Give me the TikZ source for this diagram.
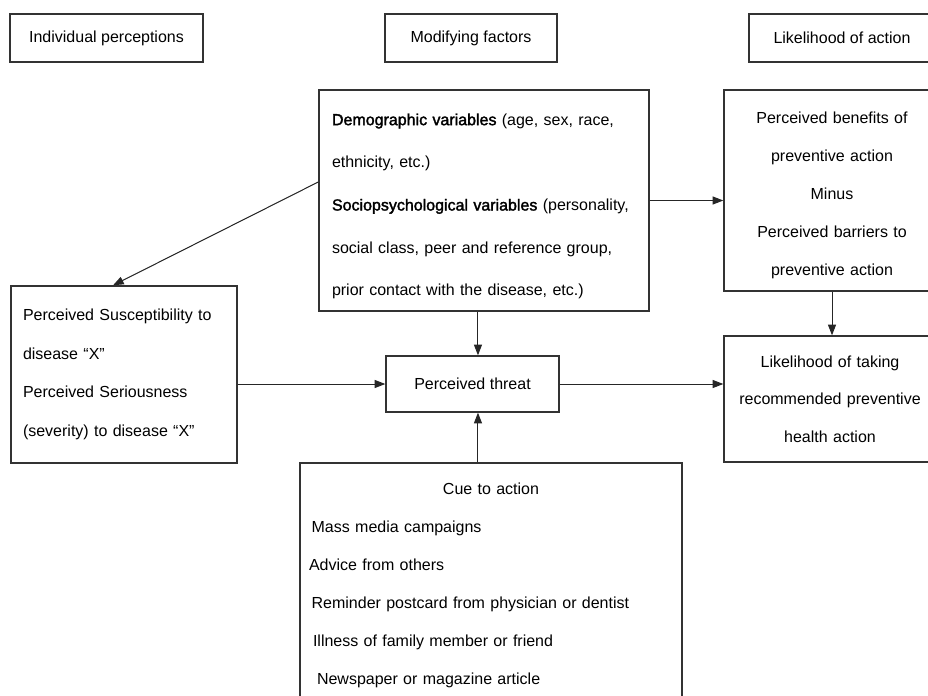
\documentclass[tikz,border=0pt]{standalone}
\usepackage{fontspec}
\setmainfont{Liberation Sans}[BoldFont=Liberation Sans,BoldFeatures={FakeBold=2}]
\usetikzlibrary{arrows.meta}

\begin{document}
\begin{tikzpicture}[x=0.75pt,y=-0.75pt,
    box/.style={draw=black!80,line width=1pt,inner sep=0pt,font=\fontsize{12}{14}\selectfont},
    flow/.style={-{Triangle[length=8pt,width=6pt]},line width=0.75pt,draw=black!85,fill=black!85}]
\useasboundingbox (0,0) rectangle (928,696);

    \node (indiv) at (106.5,38) [box,minimum width=144.75pt,minimum height=36pt] {Individual perceptions};
    \node (modhead) at (471,38) [box,minimum width=129pt,minimum height=36pt] {Modifying factors};
    \node (acthead) at (842,38) [box,minimum width=139.5pt,minimum height=36pt] {Likelihood of action};

    \node (demo) at (484,200.5) [box,text width=228pt,inner xsep=9.75pt,minimum height=165.75pt,align=left,font=\fontsize{12}{32}\selectfont] {\mbox{\rule{0pt}{17.5pt}\textbf{Demographic variables} (age, sex, race,}\\ethnicity,  etc.)\\\mbox{\textbf{Sociopsychological variables} (personality,}\\social class, peer and reference group,\\prior contact with the disease, etc.)};
    \node (benefit) at (832,190.5) [box,text width=150pt,inner xsep=6pt,minimum height=150.75pt,align=center,font=\fontsize{12}{28.5}\selectfont] {\rule{0pt}{15.5pt}Perceived benefits of\\preventive action\\Minus\\Perceived barriers to\\preventive action};

    \node (suscept) at (124,374.5) [box,text width=151.5pt,inner xsep=9pt,minimum height=132.75pt,align=left,font=\fontsize{12}{29}\selectfont] {Perceived Susceptibility to\\disease “X”\\Perceived Seriousness\\(severity) to disease “X”};
    \node (threat) at (472.5,384) [box,minimum width=129.75pt,minimum height=42pt] {Perceived threat};
    \node (likely) at (830,399) [box,text width=147pt,inner xsep=6pt,minimum height=94.5pt,align=center,font=\fontsize{12}{28}\selectfont] {Likelihood of taking\\recommended preventive\\health action};

    \node (cue) at (491,581.5) [box,text width=273pt,inner xsep=6.75pt,minimum height=177.75pt,align=left,font=\fontsize{12}{28.5}\selectfont] {\makebox[\linewidth]{\rule{0pt}{14.7pt}Cue to action}\\\hspace{2pt}Mass media campaigns\\Advice from others\\\hspace{2pt}Reminder postcard from physician or dentist\\\hspace{3pt}Illness of family member or friend\\\hspace{6pt}Newspaper or magazine article};

    \draw[flow] ([yshift=13.9pt]demo.west) -- ([xshift=-8.25pt]suscept.north);
    \draw[flow] (demo.east) -- (demo.east -| benefit.west);
    \draw[flow] ([xshift=4.1pt]threat.north |- demo.south) -- ([xshift=4.1pt]threat.north);
    \draw[flow] (suscept.east |- threat.west) -- (threat.west);
    \draw[flow] (threat.east) -- (threat.east -| likely.west);
    \draw[flow] (benefit.south) -- (benefit.south |- likely.north);
    \draw[flow] ([xshift=4.1pt]threat.south |- cue.north) -- ([xshift=4.1pt]threat.south);
\end{tikzpicture}
\end{document}
